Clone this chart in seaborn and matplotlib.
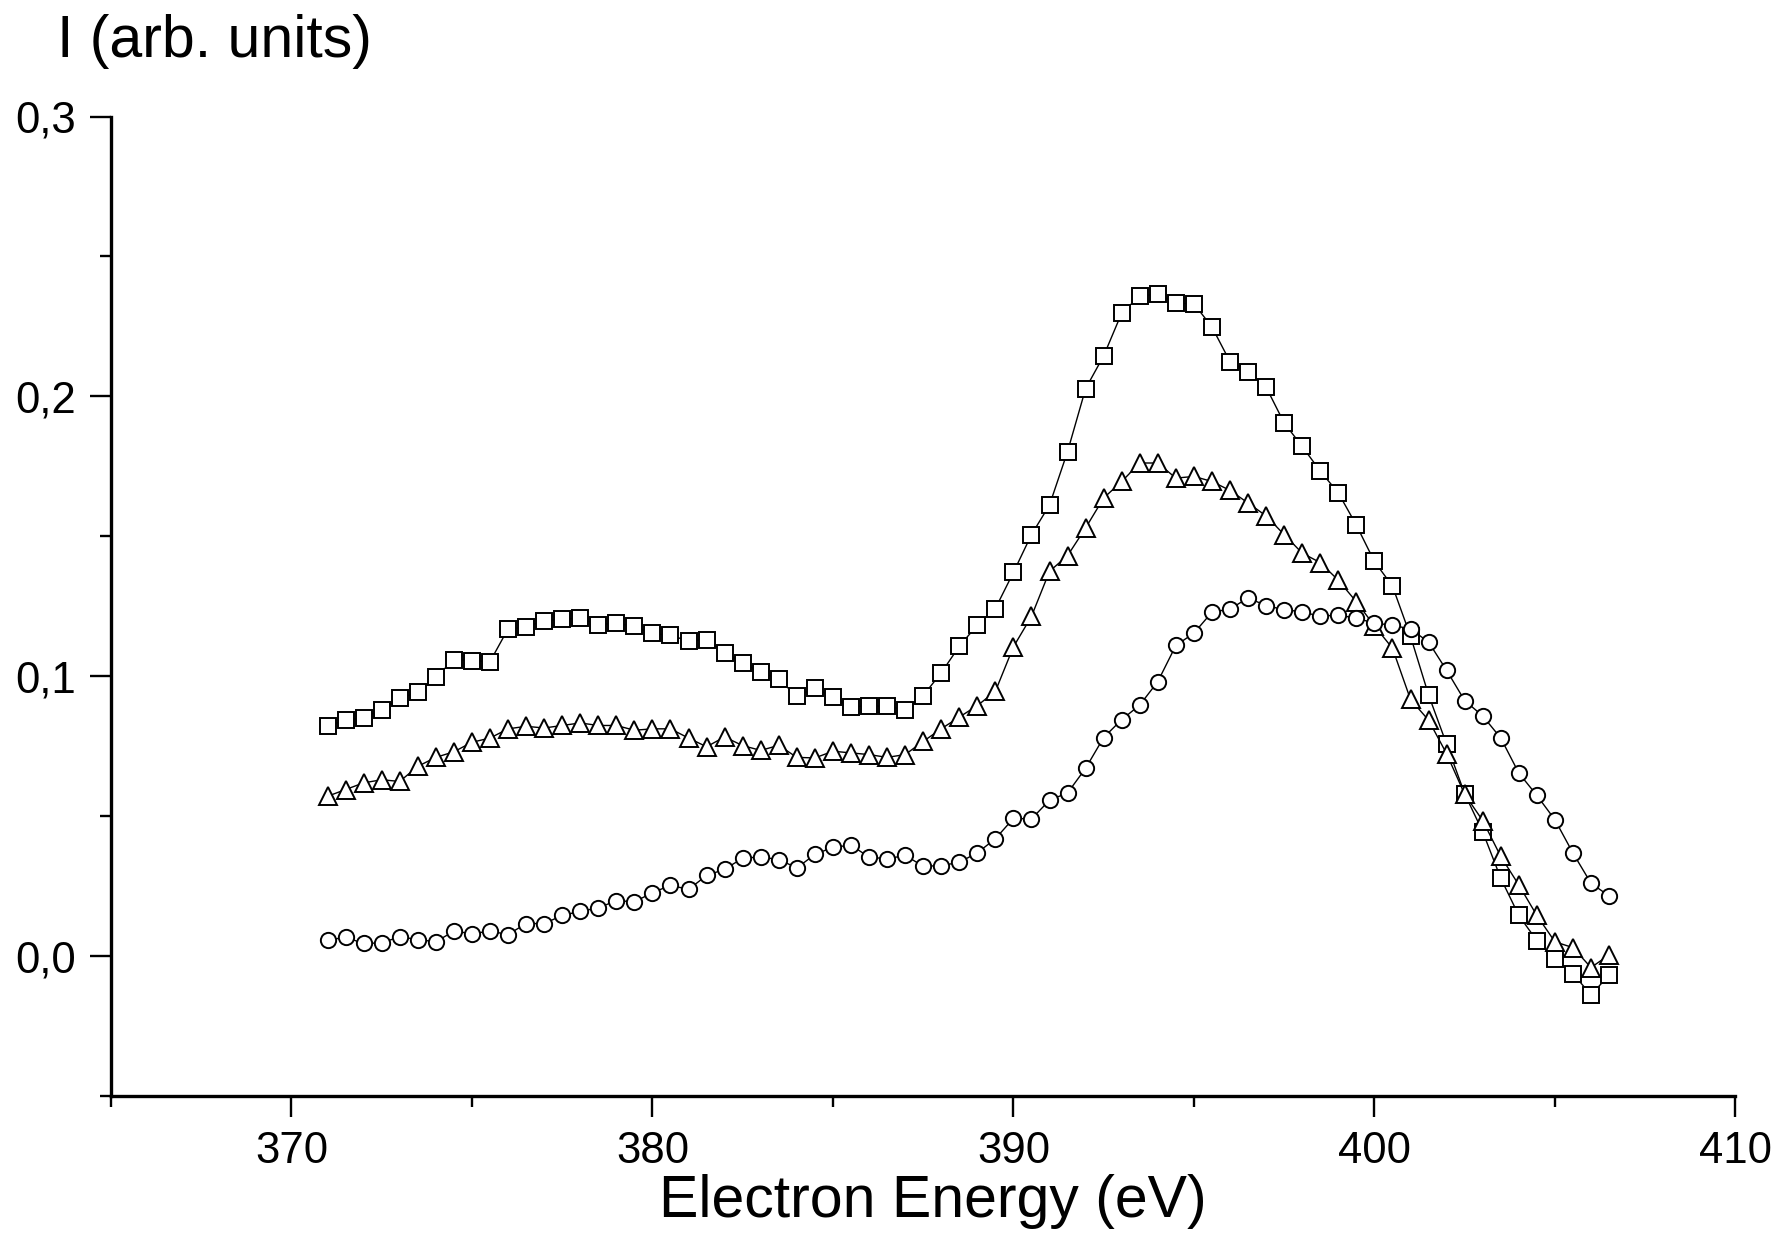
import numpy as np
import pandas as pd
import matplotlib
matplotlib.use("Agg")
import matplotlib.pyplot as plt
import seaborn as sns
from matplotlib.ticker import MultipleLocator, FuncFormatter

energy = [371.0, 371.5, 372.0, 372.5, 373.0, 373.5, 374.0, 374.5, 375.0, 375.5,
          376.0, 376.5, 377.0, 377.5, 378.0, 378.5, 379.0, 379.5, 380.0, 380.5,
          381.0, 381.5, 382.0, 382.5, 383.0, 383.5, 384.0, 384.5, 385.0, 385.5,
          386.0, 386.5, 387.0, 387.5, 388.0, 388.5, 389.0, 389.5, 390.0, 390.5,
          391.0, 391.5, 392.0, 392.5, 393.0, 393.5, 394.0, 394.5, 395.0, 395.5,
          396.0, 396.5, 397.0, 397.5, 398.0, 398.5, 399.0, 399.5, 400.0, 400.5,
          401.0, 401.5, 402.0, 402.5, 403.0, 403.5, 404.0, 404.5, 405.0, 405.5,
          406.0, 406.5]

squares = [0.0823, 0.0842, 0.0852, 0.0881, 0.0922, 0.0942, 0.0997, 0.1059, 0.1056, 0.1052,
           0.1169, 0.1176, 0.1198, 0.1204, 0.1207, 0.1184, 0.1190, 0.1178, 0.1153, 0.1146,
           0.1126, 0.1131, 0.1084, 0.1048, 0.1014, 0.0990, 0.0928, 0.0958, 0.0926, 0.0890,
           0.0895, 0.0892, 0.0881, 0.0931, 0.1012, 0.1107, 0.1183, 0.1242, 0.1371, 0.1506,
           0.1612, 0.1803, 0.2028, 0.2145, 0.2298, 0.2359, 0.2366, 0.2333, 0.2331, 0.2248,
           0.2124, 0.2088, 0.2033, 0.1905, 0.1821, 0.1733, 0.1655, 0.1540, 0.1410, 0.1322,
           0.1143, 0.0933, 0.0757, 0.0580, 0.0444, 0.0278, 0.0145, 0.0055, -0.0011, -0.0063,
           -0.0139, -0.0068]

triangles = [0.0571, 0.0595, 0.0619, 0.0630, 0.0624, 0.0678, 0.0710, 0.0730, 0.0764, 0.0779,
             0.0812, 0.0821, 0.0815, 0.0824, 0.0833, 0.0824, 0.0824, 0.0807, 0.0812, 0.0812,
             0.0779, 0.0748, 0.0783, 0.0752, 0.0735, 0.0753, 0.0710, 0.0708, 0.0732, 0.0726,
             0.0720, 0.0710, 0.0720, 0.0767, 0.0812, 0.0854, 0.0895, 0.0946, 0.1105, 0.1214,
             0.1375, 0.1431, 0.1530, 0.1637, 0.1696, 0.1762, 0.1762, 0.1708, 0.1714, 0.1696,
             0.1664, 0.1619, 0.1573, 0.1506, 0.1440, 0.1406, 0.1343, 0.1266, 0.1180, 0.1100,
             0.0917, 0.0843, 0.0723, 0.0578, 0.0484, 0.0356, 0.0254, 0.0145, 0.0051, 0.0030,
             -0.0041, 0.0004]

circles = [0.0057, 0.0067, 0.0045, 0.0047, 0.0069, 0.0059, 0.0051, 0.0089, 0.0080, 0.0089,
           0.0077, 0.0116, 0.0116, 0.0145, 0.0160, 0.0172, 0.0198, 0.0194, 0.0226, 0.0253,
           0.0238, 0.0288, 0.0310, 0.0350, 0.0354, 0.0345, 0.0315, 0.0363, 0.0389, 0.0396,
           0.0354, 0.0347, 0.0360, 0.0321, 0.0323, 0.0335, 0.0369, 0.0419, 0.0492, 0.0490,
           0.0557, 0.0583, 0.0671, 0.0781, 0.0845, 0.0897, 0.0981, 0.1110, 0.1154, 0.1229,
           0.1240, 0.1280, 0.1252, 0.1238, 0.1230, 0.1214, 0.1219, 0.1207, 0.1190, 0.1182,
           0.1169, 0.1122, 0.1021, 0.0913, 0.0858, 0.0779, 0.0654, 0.0574, 0.0487, 0.0368,
           0.0260, 0.0215]

x_major_ticks = [370, 380, 390, 400, 410]
y_major_ticks = [0.0, 0.1, 0.2, 0.3]

sns.set_style("ticks")
plt.rcParams["font.family"] = ["Liberation Sans", "DejaVu Sans"]
plt.rcParams["text.color"] = "black"
plt.rcParams["xtick.color"] = "black"
plt.rcParams["ytick.color"] = "black"
plt.rcParams["xtick.labelcolor"] = "black"
plt.rcParams["ytick.labelcolor"] = "black"

fig = plt.figure(figsize=(17.75, 12.59), dpi=100)
ax = fig.add_axes([0.0625, 0.1295, 0.9152, 0.7779])

series = [
    ("squares", squares, "s", 11.5),
    ("triangles", triangles, "^", 12.5),
    ("circles", circles, "o", 11.0),
]
for name, vals, mk, ms in series:
    df = pd.DataFrame({"energy": energy, "intensity": vals})
    sns.lineplot(data=df, x="energy", y="intensity", ax=ax, color="black",
                 linewidth=1.0, marker=mk, markersize=ms,
                 markerfacecolor="white", markeredgecolor="black",
                 markeredgewidth=1.4, sort=False, legend=False)

ax.set_xlim(365, 410)
ax.set_ylim(-0.05, 0.3)
ax.set_xticks(x_major_ticks)
ax.set_yticks(y_major_ticks)
ax.xaxis.set_minor_locator(MultipleLocator(5))
ax.yaxis.set_minor_locator(MultipleLocator(0.05))
ax.yaxis.set_major_formatter(FuncFormatter(lambda v, p: f"{v:.1f}".replace(".", ",")))

for s in ["top", "right"]:
    ax.spines[s].set_visible(False)
for s in ["left", "bottom"]:
    ax.spines[s].set_linewidth(2.4)
    ax.spines[s].set_color("black")

ax.tick_params(which="major", length=15, width=1.7, direction="out",
               labelsize=31.5, pad=10, colors="black")
ax.tick_params(which="minor", length=8, width=1.7, direction="out", colors="black")
ax.set_xlabel("")
ax.set_ylabel("")

fig.text(0.032, 0.967, "I (arb. units)", fontsize=42.5, ha="left", va="center",
         color="black")
fig.text(0.5255, 0.046, "Electron Energy (eV)", fontsize=42.5, ha="center", va="center",
         color="black")

fig.savefig("out.png", dpi=100)
